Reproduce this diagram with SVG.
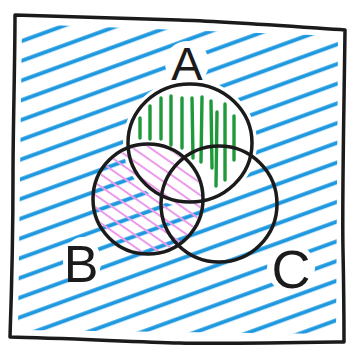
<svg xmlns="http://www.w3.org/2000/svg" width="358" height="350" viewBox="0 0 358 350">
  <style>
    .outline { fill: none; stroke: #1b1b1b; stroke-width: 3.5; stroke-linecap: round; stroke-linejoin: round; }
    .label { font-family: "Liberation Sans", "DejaVu Sans", sans-serif; fill: #1b1b1b; text-anchor: middle; }
    .green line { stroke: #1e9a3a; stroke-width: 3.4; stroke-linecap: round; }
  </style>
  <defs>
    <pattern id="bluehatch" patternUnits="userSpaceOnUse" width="400" height="18.5" patternTransform="rotate(-20)">
      <line x1="0" y1="9" x2="400" y2="9" stroke="#1e98df" stroke-width="4" />
    </pattern>
    <pattern id="pinkhatch" patternUnits="userSpaceOnUse" width="400" height="10" patternTransform="rotate(35)">
      <line x1="0" y1="5" x2="400" y2="5" stroke="#ec9aec" stroke-width="2.2" />
    </pattern>
    <mask id="blueMask" maskUnits="userSpaceOnUse" x="0" y="0" width="358" height="350">
      <polygon points="22,24 338,36 336,334 18,330" fill="white" />
      <ellipse cx="190" cy="143" rx="62" ry="59" fill="black" stroke="black" stroke-width="10" />
      <ellipse cx="187" cy="63" rx="22" ry="22" fill="black" />
      <ellipse cx="82" cy="262" rx="19" ry="25" fill="black" />
      <ellipse cx="291" cy="268" rx="24" ry="25" fill="black" />
    </mask>
    <clipPath id="clipB">
      <circle cx="148" cy="199" r="53" />
    </clipPath>
  </defs>

  <g id="background-hatch">
    <rect x="0" y="0" width="358" height="350" fill="url(#bluehatch)" mask="url(#blueMask)" />
  </g>

  <g id="pink-hatch">
    <rect x="90" y="140" width="120" height="120" fill="url(#pinkhatch)" clip-path="url(#clipB)" />
  </g>

  <g id="green-hatch" class="green">
    <line x1="140" y1="118" x2="140" y2="138" />
    <line x1="150" y1="106" x2="150" y2="139" />
    <line x1="161" y1="98" x2="161" y2="139" />
    <line x1="171" y1="96" x2="171" y2="145" />
    <line x1="182" y1="98" x2="182" y2="148" />
    <line x1="192" y1="98" x2="193" y2="158" />
    <line x1="202" y1="97" x2="201" y2="162" />
    <line x1="211" y1="101" x2="212" y2="168" />
    <line x1="217" y1="112" x2="216" y2="186" />
    <line x1="225" y1="104" x2="225" y2="180" />
    <line x1="234" y1="116" x2="234" y2="160" />
  </g>

  <g id="frame">
    <path class="outline" d="M15,15 C80,17 140,19 179,20 S300,27 345,30 C344,110 342,200 343,250 S344,320 344,342 C280,343 220,344 179,343 S60,338 10,337 C12,280 13,220 13,175 S15,60 15,15 Z" />
  </g>

  <g id="circle-A">
    <ellipse class="outline" cx="190" cy="143" rx="62" ry="59" />
    <text class="label" x="187" y="80" font-size="47">A</text>
  </g>
  <g id="circle-B">
    <circle class="outline" cx="148" cy="199" r="55" />
    <text class="label" x="81" y="282" font-size="52">B</text>
  </g>
  <g id="circle-C">
    <circle class="outline" cx="219" cy="204" r="58" />
    <text class="label" x="291" y="288" font-size="54">C</text>
  </g>
</svg>
